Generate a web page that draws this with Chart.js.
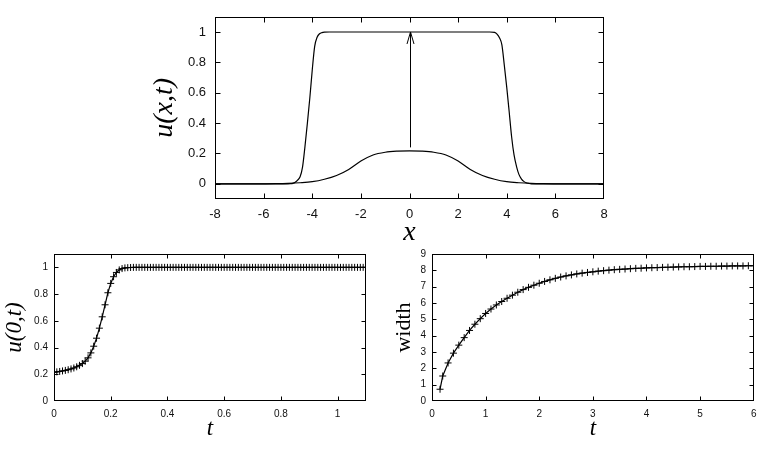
<!DOCTYPE html>
<html lang="en">
<head>
<meta charset="utf-8">
<title>Front profiles</title>
<script src="https://cdn.jsdelivr.net/npm/chart.js"></script>
<style>
    body { margin: 0; background: #fff; }
    #wrap { position: relative; width: 764px; height: 452px; }
    #wrap canvas { position: absolute; left: 0; top: 0; }
</style>
</head>
<body>
<div id="wrap">
    <canvas id="profile" width="764" height="452"></canvas>
    <canvas id="centre" width="764" height="452"></canvas>
    <canvas id="width" width="764" height="452"></canvas>
</div>

<script>
    // top panel: initial bump and final plateau of u(x,t)
    var xInit = [-8, -6, -5.5, -5, -4.5, -4, -3.5, -3, -2.5, -2, -1.5, -1, -0.5, 0,
                 0.5, 1, 1.5, 2, 2.5, 3, 3.5, 4, 4.5, 5, 5.5, 6, 8];
    var uInit = [0, 0, 0.001, 0.003, 0.007, 0.014, 0.03, 0.055, 0.095, 0.15, 0.19, 0.208, 0.215, 0.217,
                 0.215, 0.208, 0.19, 0.15, 0.095, 0.055, 0.03, 0.014, 0.007, 0.003, 0.001, 0, 0];
    var xFinal = [-8, -5, -4.9, -4.8, -4.7, -4.6, -4.5, -4.4, -4.3, -4.2, -4.1, -4.0, -3.9, -3.8, -3.7, -3.6, -3.5, -3.3,
                  3.3, 3.5, 3.6, 3.7, 3.8, 3.9, 4.0, 4.1, 4.2, 4.3, 4.4, 4.5, 4.6, 4.7, 4.8, 4.9, 5.0, 8];
    var uFinal = [0, 0, 0.001, 0.003, 0.01, 0.024, 0.046, 0.11, 0.245, 0.40, 0.565, 0.75, 0.905, 0.965, 0.988, 0.996, 0.999, 1,
                  1, 0.997, 0.986, 0.962, 0.915, 0.78, 0.635, 0.475, 0.31, 0.19, 0.115, 0.062, 0.033, 0.016, 0.007, 0.003, 0, 0];
    var arrowX = [0, 0];
    var arrowU = [0.24, 1.0];
    var profileXTicks = [-8, -6, -4, -2, 0, 2, 4, 6, 8];
    var profileYTicks = [0, 0.2, 0.4, 0.6, 0.8, 1];

    // bottom left: centre value u(0,t)
    var tCentre = [0, 0.01, 0.02, 0.03, 0.04, 0.05, 0.06, 0.07, 0.08, 0.09,
                   0.1, 0.11, 0.12, 0.13, 0.14, 0.15, 0.16, 0.17, 0.18, 0.19,
                   0.2, 0.21, 0.22, 0.23, 0.24, 0.25, 0.26, 0.27, 0.28, 0.29,
                   0.3, 0.31, 0.32, 0.33, 0.34, 0.35, 0.36, 0.37, 0.38, 0.39,
                   0.4, 0.41, 0.42, 0.43, 0.44, 0.45, 0.46, 0.47, 0.48, 0.49,
                   0.5, 0.51, 0.52, 0.53, 0.54, 0.55, 0.56, 0.57, 0.58, 0.59,
                   0.6, 0.61, 0.62, 0.63, 0.64, 0.65, 0.66, 0.67, 0.68, 0.69,
                   0.7, 0.71, 0.72, 0.73, 0.74, 0.75, 0.76, 0.77, 0.78, 0.79,
                   0.8, 0.81, 0.82, 0.83, 0.84, 0.85, 0.86, 0.87, 0.88, 0.89,
                   0.9, 0.91, 0.92, 0.93, 0.94, 0.95, 0.96, 0.97, 0.98, 0.99,
                   1.0, 1.01, 1.02, 1.03, 1.04, 1.05, 1.06, 1.07, 1.08, 1.09,
                   1.1];
    var uCentre = [0.215, 0.218, 0.221, 0.225, 0.229, 0.234, 0.240, 0.247, 0.256, 0.267,
                   0.280, 0.298, 0.323, 0.360, 0.410, 0.470, 0.545, 0.630, 0.720, 0.810,
                   0.880, 0.930, 0.962, 0.981, 0.991, 0.996, 0.998, 0.999, 1, 1,
                   1, 1, 1, 1, 1, 1, 1, 1, 1, 1,
                   1, 1, 1, 1, 1, 1, 1, 1, 1, 1,
                   1, 1, 1, 1, 1, 1, 1, 1, 1, 1,
                   1, 1, 1, 1, 1, 1, 1, 1, 1, 1,
                   1, 1, 1, 1, 1, 1, 1, 1, 1, 1,
                   1, 1, 1, 1, 1, 1, 1, 1, 1, 1,
                   1, 1, 1, 1, 1, 1, 1, 1, 1, 1,
                   1, 1, 1, 1, 1, 1, 1, 1, 1, 1,
                   1];
    var centreXTicks = [0, 0.2, 0.4, 0.6, 0.8, 1];
    var centreYTicks = [0, 0.2, 0.4, 0.6, 0.8, 1];

    // bottom right: front width over time
    var tWidth = [0.15, 0.2, 0.3, 0.4, 0.5, 0.6, 0.7, 0.8, 0.9, 1.0,
                  1.1, 1.2, 1.3, 1.4, 1.5, 1.6, 1.7, 1.8, 1.9, 2.0,
                  2.1, 2.2, 2.3, 2.4, 2.5, 2.6, 2.7, 2.8, 2.9, 3.0,
                  3.1, 3.2, 3.3, 3.4, 3.5, 3.6, 3.7, 3.8, 3.9, 4.0,
                  4.1, 4.2, 4.3, 4.4, 4.5, 4.6, 4.7, 4.8, 4.9, 5.0,
                  5.1, 5.2, 5.3, 5.4, 5.5, 5.6, 5.7, 5.8, 5.9, 6.0];
    var widthVals = [0.72, 1.53, 2.33, 2.93, 3.42, 3.88, 4.32, 4.70, 5.04, 5.36,
                     5.63, 5.88, 6.09, 6.29, 6.48, 6.66, 6.82, 6.96, 7.09, 7.21,
                     7.32, 7.42, 7.51, 7.59, 7.66, 7.72, 7.78, 7.83, 7.87, 7.91,
                     7.95, 7.98, 8.01, 8.04, 8.06, 8.08, 8.10, 8.12, 8.13, 8.15,
                     8.16, 8.17, 8.18, 8.19, 8.20, 8.21, 8.22, 8.22, 8.23, 8.24,
                     8.24, 8.25, 8.25, 8.26, 8.26, 8.27, 8.27, 8.27, 8.28, 8.28];
    var widthXTicks = [0, 1, 2, 3, 4, 5, 6];
    var widthYTicks = [0, 1, 2, 3, 4, 5, 6, 7, 8, 9];

    function pairs(xs, ys) {
        return xs.map((x, i) => ({ x: x, y: ys[i] }));
    }

    // gnuplot-like box: border all round, ticks pointing inwards on every side
    var frameTicks = {
        id: 'frameTicks',
        afterDatasetsDraw(chart, args, opts) {
            const { ctx, chartArea: a, scales: { x, y } } = chart;
            const len = opts.len || 5;
            const L = Math.round(a.left) + 0.5, R = Math.round(a.right) - 0.5;
            const T = Math.round(a.top) + 0.5, B = Math.round(a.bottom) - 0.5;
            const clamp = (v, lo, hi) => Math.min(Math.max(v, lo), hi);
            ctx.save();
            ctx.strokeStyle = '#000';
            ctx.lineWidth = 1;
            ctx.strokeRect(L, T, R - L, B - T);
            ctx.beginPath();
            x.ticks.forEach(t => {
                const px = clamp(Math.round(x.getPixelForValue(t.value)) + 0.5, L, R);
                ctx.moveTo(px, B); ctx.lineTo(px, B - len);
                ctx.moveTo(px, T); ctx.lineTo(px, T + len);
            });
            y.ticks.forEach(t => {
                const py = clamp(Math.round(y.getPixelForValue(t.value)) + 0.5, T, B);
                ctx.moveTo(L, py); ctx.lineTo(L + len, py);
                ctx.moveTo(R, py); ctx.lineTo(R - len, py);
            });
            ctx.stroke();
            ctx.restore();
        }
    };

    // arrow from the initial bump up to the plateau
    var arrowPlugin = {
        id: 'growArrow',
        afterDatasetsDraw(chart) {
            const { ctx, scales: { x, y } } = chart;
            const x0 = Math.round(x.getPixelForValue(arrowX[0])) + 0.5;
            const y0 = y.getPixelForValue(arrowU[0]);
            const x1 = Math.round(x.getPixelForValue(arrowX[1])) + 0.5;
            const y1 = y.getPixelForValue(arrowU[1]);
            ctx.save();
            ctx.strokeStyle = '#000';
            ctx.lineWidth = 1;
            ctx.beginPath();
            ctx.moveTo(x0, y0); ctx.lineTo(x1, y1);
            ctx.moveTo(x1 - 3.5, y1 + 12); ctx.lineTo(x1, y1); ctx.lineTo(x1 + 3.5, y1 + 12);
            ctx.stroke();
            ctx.restore();
        }
    };

    function makeScale(min, max, tickVals, fit, tickFont, tickPad, title, titleFont, titlePad) {
        return {
            type: 'linear',
            min: min,
            max: max,
            grid: { display: false, drawTicks: false },
            border: { display: false },
            afterBuildTicks: s => { s.ticks = tickVals.map(v => ({ value: v })); },
            afterFit: s => { if (s.isHorizontal()) s.height = fit; else s.width = fit; },
            ticks: {
                color: '#111',
                font: { family: 'Liberation Sans', size: tickFont },
                padding: tickPad,
                maxRotation: 0,
                autoSkip: false,
                callback: v => String(+v.toFixed(3))   // plain "1", not "1.0"
            },
            title: {
                display: true,
                text: title,
                color: '#000',
                font: titleFont,
                padding: titlePad
            }
        };
    }

    function lineOpts(padding, xScale, yScale, tickLen) {
        return {
            responsive: false,
            animation: false,
            devicePixelRatio: 1,
            layout: { padding: padding },
            plugins: { legend: { display: false }, tooltip: { enabled: false }, frameTicks: { len: tickLen } },
            scales: { x: xScale, y: yScale }
        };
    }

    var serifItalic = size => ({ family: 'Liberation Serif', style: 'italic', size: size, lineHeight: 1 });

    new Chart(document.getElementById('profile'), {
        type: 'line',
        data: {
            datasets: [
                { data: pairs(xFinal, uFinal), borderColor: '#000', borderWidth: 1.2, pointRadius: 0, cubicInterpolationMode: 'monotone' },
                { data: pairs(xInit, uInit), borderColor: '#000', borderWidth: 1.2, pointRadius: 0, cubicInterpolationMode: 'monotone' }
            ]
        },
        options: lineOpts({ left: 140, right: 160, top: 15, bottom: 202 },
            makeScale(-8, 8, profileXTicks, 51, 13, 7.5, 'x', serifItalic(28), { top: 0, bottom: 3 }),
            makeScale(-0.1, 1.1, profileYTicks, 75, 13, 9, 'u(x,t)', serifItalic(28), { top: 11, bottom: 0 }), 5),
        plugins: [frameTicks, arrowPlugin]
    });

    new Chart(document.getElementById('centre'), {
        type: 'line',
        data: {
            datasets: [{
                data: pairs(tCentre, uCentre), borderColor: '#000', borderWidth: 1.2,
                pointStyle: 'cross', pointRadius: 3.5, pointBorderWidth: 1, pointBorderColor: '#000'
            }]
        },
        options: lineOpts({ left: 0, right: 398, top: 254, bottom: 0 },
            makeScale(0, 1.1, centreXTicks, 51, 10, 7.5, 't', serifItalic(23), { top: 0, bottom: 11.5 }),
            makeScale(0, 1.1, centreYTicks, 54, 10, 6, 'u(0,t)', serifItalic(23), { top: 3.5, bottom: 0 }), 4),
        plugins: [frameTicks]
    });

    new Chart(document.getElementById('width'), {
        type: 'line',
        data: {
            datasets: [{
                data: pairs(tWidth, widthVals), borderColor: '#000', borderWidth: 1.2,
                pointStyle: 'cross', pointRadius: 3.5, pointBorderWidth: 1, pointBorderColor: '#000'
            }]
        },
        options: lineOpts({ left: 380, right: 7, top: 254, bottom: 0 },
            makeScale(0, 6, widthXTicks, 51, 10, 7.5, 't', serifItalic(23), { top: 0, bottom: 11.5 }),
            makeScale(0, 9, widthYTicks, 52, 10, 6, 'width', { family: 'Liberation Serif', size: 22, lineHeight: 1 }, { top: 13, bottom: 0 }), 4),
        plugins: [frameTicks]
    });
</script>
</body>
</html>
